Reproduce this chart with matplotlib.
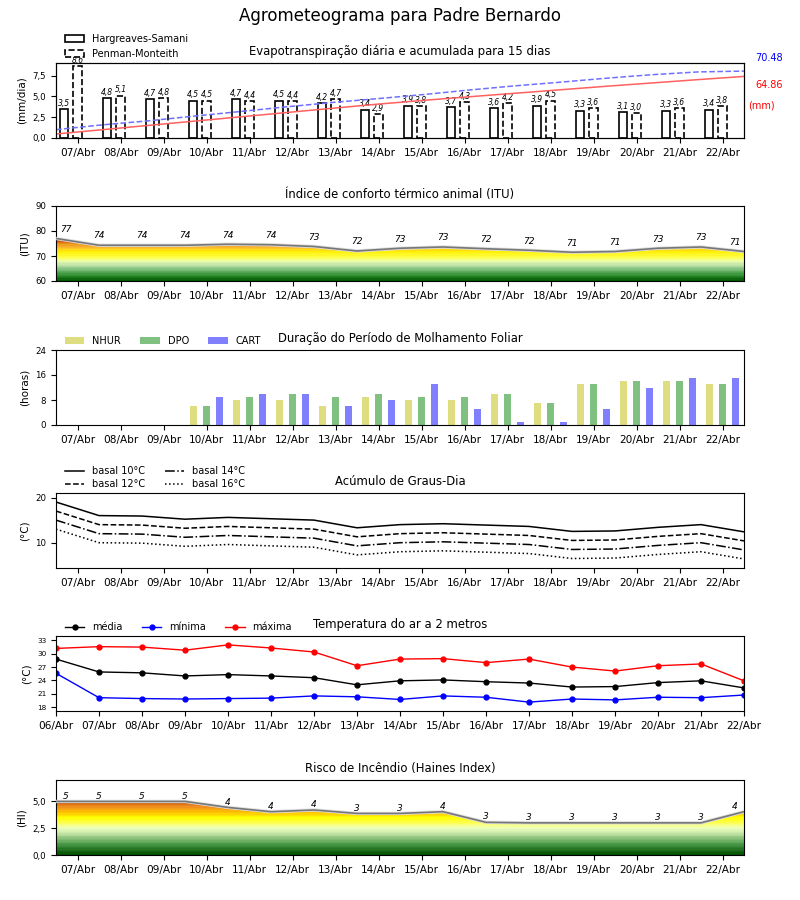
import numpy as np
import matplotlib
matplotlib.use('Agg')
import matplotlib.pyplot as plt
from matplotlib.colors import LinearSegmentedColormap
from matplotlib.patches import PathPatch, Patch
from matplotlib.path import Path
import matplotlib.patheffects as pe
from matplotlib.ticker import FuncFormatter

# ---------------- data ----------------
days = ['07/Abr', '08/Abr', '09/Abr', '10/Abr', '11/Abr', '12/Abr', '13/Abr', '14/Abr',
        '15/Abr', '16/Abr', '17/Abr', '18/Abr', '19/Abr', '20/Abr', '21/Abr', '22/Abr']
days_temp = ['06/Abr'] + days

et_hs = [3.5, 4.8, 4.7, 4.5, 4.7, 4.5, 4.2, 3.4, 3.9, 3.7, 3.6, 3.9, 3.3, 3.1, 3.3, 3.4]
et_pm = [8.6, 5.1, 4.8, 4.5, 4.4, 4.4, 4.7, 2.9, 3.8, 4.3, 4.2, 4.5, 3.6, 3.0, 3.6, 3.8]
et_hs_acum = [4.2, 8.7, 13.2, 17.7, 22.2, 26.7, 31.2, 35.6, 39.6, 43.4, 47.1, 50.8, 54.5, 58.0, 61.5, 64.86]
et_pm_acum = [8.8, 13.8, 18.0, 23.0, 27.8, 32.7, 37.3, 41.4, 45.7, 50.5, 54.9, 58.8, 63.0, 66.7, 69.6, 70.48]

itu = [77.0, 74.3, 74.3, 74.3, 74.7, 74.5, 73.8, 72.0, 73.1, 73.6, 72.9, 72.3, 71.5, 71.8, 73.1, 73.6, 71.8]
itu_labels = [77, 74, 74, 74, 74, 74, 73, 72, 73, 73, 72, 72, 71, 71, 73, 73, 71]

nhur = [0, 0, 0, 6, 8, 8, 6, 9, 8, 8, 10, 7, 13, 14, 14, 13]
dpo = [0, 0, 0, 6, 9, 10, 9, 10, 9, 9, 10, 7, 13, 14, 14, 13]
cart = [0, 0, 0, 9, 10, 10, 6, 8, 13, 5, 1, 1, 5, 12, 15, 15]

gd10 = [19.0, 16.0, 15.9, 15.2, 15.6, 15.3, 15.0, 13.3, 14.0, 14.2, 13.9, 13.6, 12.5, 12.6, 13.4, 14.0, 12.4]
gd12 = [17.0, 14.0, 13.9, 13.2, 13.6, 13.3, 13.0, 11.3, 12.0, 12.2, 11.9, 11.6, 10.5, 10.6, 11.4, 12.0, 10.4]
gd14 = [15.0, 12.0, 11.9, 11.2, 11.6, 11.3, 11.0, 9.3, 10.0, 10.2, 9.9, 9.6, 8.5, 8.6, 9.4, 10.0, 8.4]
gd16 = [13.0, 10.0, 9.9, 9.2, 9.6, 9.3, 9.0, 7.3, 8.0, 8.2, 7.9, 7.6, 6.5, 6.6, 7.4, 8.0, 6.4]

t_media = [28.8, 25.9, 25.7, 25.0, 25.3, 25.0, 24.6, 23.0, 23.9, 24.1, 23.7, 23.4, 22.5, 22.6, 23.5, 23.9, 22.3]
t_min = [25.6, 20.1, 19.9, 19.8, 19.9, 20.0, 20.5, 20.3, 19.7, 20.5, 20.2, 19.1, 19.8, 19.6, 20.2, 20.1, 20.7]
t_max = [31.2, 31.6, 31.5, 30.8, 32.0, 31.3, 30.4, 27.3, 28.8, 28.9, 28.0, 28.8, 27.0, 26.1, 27.3, 27.7, 23.9]

haines = [5.0, 5.0, 5.0, 5.0, 4.44, 4.04, 4.2, 3.88, 3.88, 4.04, 3.05, 3.0, 3.0, 3.0, 3.0, 3.0, 4.04]
haines_labels = [5, 5, 5, 5, 4, 4, 4, 3, 3, 4, 3, 3, 3, 3, 3, 3, 4]

# ---------------- helpers ----------------
XT = 7.6   # x tick label size
YT = 6.2   # y tick label size
TT = 8.4   # panel title size
LX = 5 / 688  # legend anchor shift


def axpos(top_px):
    return [56 / 800, 1 - (top_px + 75) / 900, 688 / 800, 75 / 900]


def style_axis(ax, labels, ticks):
    ax.set_xticks(ticks)
    ax.set_xticklabels(labels)
    ax.tick_params(axis='x', labelsize=XT)
    ax.tick_params(axis='y', labelsize=YT)


comma = FuncFormatter(lambda v, p: ('%.1f' % v).replace('.', ','))


def gradient_fill(ax, x, y, ymin, stops, vmin, vmax, nbands):
    cmap = LinearSegmentedColormap.from_list('g', stops, N=nbands)
    grad = np.linspace(vmin, vmax, 600).reshape(-1, 1)
    im = ax.imshow(grad, extent=[x[0], x[-1], vmin, vmax], origin='lower',
                   aspect='auto', cmap=cmap, vmin=vmin, vmax=vmax, zorder=1,
                   interpolation='nearest')
    verts = np.vstack([[x[0], ymin], np.column_stack([x, y]), [x[-1], ymin], [x[0], ymin]])
    clip = PathPatch(Path(verts), facecolor='none', edgecolor='none')
    ax.add_patch(clip)
    im.set_clip_path(clip)


fig = plt.figure(figsize=(8, 9), dpi=100)
fig.suptitle('Agrometeograma para Padre Bernardo', fontsize=12, y=0.992)

xd = np.arange(len(days))
x17 = np.arange(17) - 0.5

# ---------------- Panel 1: ET ----------------
ax1 = fig.add_axes(axpos(63))
ax1.bar(xd - 0.31, et_hs, width=0.2, facecolor='white', edgecolor='black', linewidth=1.2)
ax1.bar(xd, et_pm, width=0.2, facecolor='white', edgecolor='black', linewidth=1.2, linestyle='--')
for xi, v in zip(xd, et_hs):
    ax1.text(xi - 0.31, v + 0.15, ('%.1f' % v).replace('.', ','), ha='center', va='bottom',
             fontsize=5.5, style='italic')
for xi, v in zip(xd, et_pm):
    ax1.text(xi, v + 0.15, ('%.1f' % v).replace('.', ','), ha='center', va='bottom',
             fontsize=5.5, style='italic')
ax1.set_xlim(-0.5, 15.5)
ax1.set_ylim(0, 9)
ax1.set_yticks([0, 2.5, 5, 7.5])
ax1.yaxis.set_major_formatter(comma)
style_axis(ax1, days, xd)
ax1.set_ylabel('(mm/dia)', fontsize=7.5)
ax1.set_title('Evapotranspiração diária e acumulada para 15 dias', fontsize=TT)
ax1b = ax1.twinx()
xc = np.linspace(-0.5, 15.5, len(et_pm_acum))
ax1b.plot(xc, et_hs_acum, color='#ff6060', lw=1.1)
ax1b.plot(xc, et_pm_acum, color='#7070ff', lw=1.1, ls='--')
ax1b.set_ylim(0, 79)
ax1b.set_yticks([])
ax1b.set_xlim(-0.5, 15.5)
fig.text(769 / 800, 1 - 58 / 900, '%.2f' % et_pm_acum[-1], color='blue', fontsize=7, ha='center', va='center')
fig.text(769 / 800, 1 - 85 / 900, '%.2f' % et_hs_acum[-1], color='red', fontsize=7, ha='center', va='center')
fig.text(761 / 800, 1 - 105 / 900, '(mm)', color='red', fontsize=7, ha='center', va='center')
h1 = [Patch(facecolor='white', edgecolor='black', lw=1.2, label='Hargreaves-Samani'),
      Patch(facecolor='white', edgecolor='black', lw=1.2, ls='--', label='Penman-Monteith')]
ax1.legend(handles=h1, loc='lower left', bbox_to_anchor=(LX, 1.0), frameon=False,
           fontsize=7, borderaxespad=0, labelspacing=0.5)

# ---------------- Panel 2: ITU ----------------
ax2 = fig.add_axes(axpos(206))
itu_stops = [(0.0, '#005a00'), (2 / 17, '#2f8f2f'), (4 / 17, '#6cb46c'), (6 / 17, '#b8e0a8'),
             (8 / 17, '#f0ffb0'), (9.5 / 17, '#ffff40'), (12 / 17, '#ffee00'), (13 / 17, '#ffc030'),
             (14.5 / 17, '#f0a020'), (15.5 / 17, '#e07010'), (1.0, '#cc1a00')]
gradient_fill(ax2, x17, itu, 60, itu_stops, 60, 77, 34)
ax2.plot(x17, itu, color='#777777', lw=1.2,
         path_effects=[pe.Stroke(linewidth=2.4, foreground='#dddddd'), pe.Normal()], zorder=3)
for i, (xi, v, lab) in enumerate(zip(x17, itu, itu_labels)):
    xx = xi + (0.22 if i == 0 else (-0.22 if i == 16 else 0))
    ax2.text(xx, v + 3.7, str(lab), ha='center', va='center', fontsize=6.5, style='italic')
ax2.set_xlim(-0.5, 15.5)
ax2.set_ylim(60, 90)
ax2.set_yticks([60, 70, 80, 90])
style_axis(ax2, days, xd)
ax2.set_ylabel('(ITU)', fontsize=7.5)
ax2.set_title('Índice de conforto térmico animal (ITU)', fontsize=TT)

# ---------------- Panel 3: Molhamento foliar ----------------
ax3 = fig.add_axes(axpos(350))
ax3.bar(xd - 0.3, nhur, width=0.15, color='#dede80', label='NHUR')
ax3.bar(xd, dpo, width=0.15, color='#80c080', label='DPO')
ax3.bar(xd + 0.3, cart, width=0.15, color='#8080ff', label='CART')
ax3.set_xlim(-0.5, 15.5)
ax3.set_ylim(0, 24)
ax3.set_yticks([0, 8, 16, 24])
style_axis(ax3, days, xd)
ax3.set_ylabel('(horas)', fontsize=7.5)
ax3.set_title('Duração do Período de Molhamento Foliar', fontsize=TT)
ax3.legend(loc='lower left', bbox_to_anchor=(LX, 1.0), ncol=3, frameon=False, fontsize=7,
           borderaxespad=0)

# ---------------- Panel 4: Graus-dia ----------------
ax4 = fig.add_axes(axpos(493))
ax4.plot(x17, gd10, color='black', lw=1.1, ls='-', label='basal 10°C')
ax4.plot(x17, gd12, color='black', lw=1.1, ls='--', label='basal 12°C')
ax4.plot(x17, gd14, color='black', lw=1.1, ls='-.', label='basal 14°C')
ax4.plot(x17, gd16, color='black', lw=1.1, ls=':', label='basal 16°C')
ax4.set_xlim(-0.5, 15.5)
ax4.set_ylim(min(gd16) - 2, max(gd10) + 2)
ax4.set_yticks([10, 20])
style_axis(ax4, days, xd)
ax4.set_ylabel('(°C)', fontsize=7.5)
ax4.set_title('Acúmulo de Graus-Dia', fontsize=TT)
ax4.legend(loc='lower left', bbox_to_anchor=(LX, 1.0), ncol=2, frameon=False, fontsize=7,
           borderaxespad=0, labelspacing=0.3)

# ---------------- Panel 5: Temperatura ----------------
ax5 = fig.add_axes(axpos(636))
xt = np.arange(len(days_temp))
ax5.plot(xt, t_media, color='black', lw=1.0, marker='o', ms=3.5, label='média')
ax5.plot(xt, t_min, color='blue', lw=1.0, marker='o', ms=3.5, label='mínima')
ax5.plot(xt, t_max, color='red', lw=1.0, marker='o', ms=3.5, label='máxima')
ax5.set_xlim(0, 16)
ax5.set_ylim(min(t_min) - 2, max(t_max) + 2)
ax5.set_yticks([18, 21, 24, 27, 30, 33])
style_axis(ax5, days_temp, xt)
ax5.tick_params(axis='y', labelsize=5.2)
ax5.set_ylabel('(°C)', fontsize=7.5)
ax5.set_title('Temperatura do ar a 2 metros', fontsize=TT)
ax5.legend(loc='lower left', bbox_to_anchor=(LX, 1.0), ncol=3, frameon=False, fontsize=7,
           borderaxespad=0)

# ---------------- Panel 6: Haines ----------------
ax6 = fig.add_axes(axpos(780))
hi_stops = [(0.0, '#005000'), (0.2, '#4a9a4a'), (0.4, '#c8e8a8'), (0.5, '#f0ffc0'),
            (0.62, '#ffff40'), (0.7, '#ffff00'), (0.8, '#ffc000'), (0.9, '#f09020'), (1.0, '#cc5a10')]
gradient_fill(ax6, x17, haines, 0, hi_stops, 0, 5, 40)
ax6.plot(x17, haines, color='#777777', lw=1.2,
         path_effects=[pe.Stroke(linewidth=2.4, foreground='#dddddd'), pe.Normal()], zorder=3)
for i, (xi, v, lab) in enumerate(zip(x17, haines, haines_labels)):
    xx = xi + (0.22 if i == 0 else (-0.22 if i == 16 else 0))
    ax6.text(xx, v + 0.5, str(lab), ha='center', va='center', fontsize=6.5, style='italic')
ax6.set_xlim(-0.5, 15.5)
ax6.set_ylim(0, 7)
ax6.set_yticks([0, 2.5, 5])
ax6.yaxis.set_major_formatter(comma)
style_axis(ax6, days, xd)
ax6.set_ylabel('(HI)', fontsize=7.5)
ax6.set_title('Risco de Incêndio (Haines Index)', fontsize=TT)

fig.savefig('out.png', dpi=100)
